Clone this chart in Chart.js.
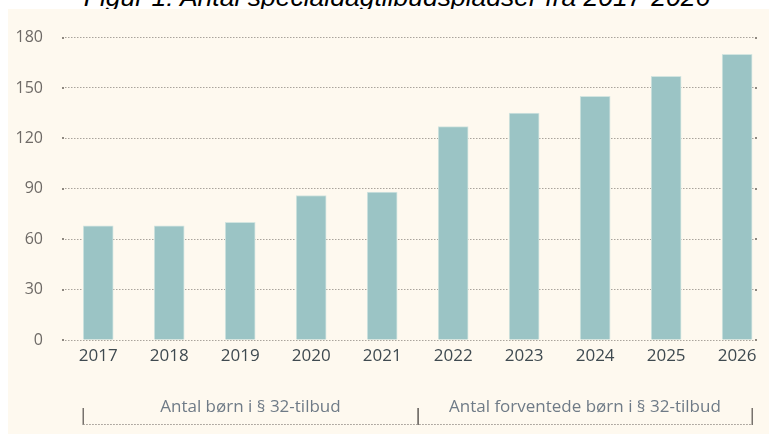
<!DOCTYPE html>
<html><head><meta charset="utf-8">
<script src="https://cdn.jsdelivr.net/npm/chart.js@4.4.1/dist/chart.umd.min.js"></script>
<style>
html,body{margin:0;padding:0;background:#fff;width:769px;height:434px;overflow:hidden;position:relative}
#title{position:absolute;left:0;width:794px;top:-16.4px;text-align:center;font:italic 26.5px/26.5px "Liberation Sans",Arial,sans-serif;color:#000;white-space:nowrap}
#panel{position:absolute;left:8px;top:9px;width:761px;height:425px;background:#fef9ef}
canvas{display:block}
</style></head><body>
<div id="title">Figur 1: Antal specialdagtilbudspladser fra 2017-2026</div>
<div id="panel"><canvas id="c" width="761" height="425"></canvas></div>
<script>
const years = [2017, 2018, 2019, 2020, 2021, 2022, 2023, 2024, 2025, 2026];
const values = [68, 68, 70, 86, 88, 127, 135, 145, 157, 170];
const yTicks = [0, 30, 60, 90, 120, 150, 180];
const groupLabels = ['Antal børn i § 32-tilbud', 'Antal forventede børn i § 32-tilbud'];
const groupFirst = [2017, 2022];
const groupLast = [2021, 2026];

const groupPlugin = {
  id: 'groups',
  afterDraw(chart) {
    const ctx = chart.ctx;
    const meta = chart.getDatasetMeta(0);
    const xs = chart.scales.x;
    const ca = chart.chartArea;
    ctx.save();
    ctx.fillStyle = '#8e8880';
    yTicks.forEach(v => {
      const y = Math.round(chart.scales.y.getPixelForValue(v));
      ctx.fillRect(ca.left, y - 1, 2, 2);
      ctx.fillRect(ca.right - 2, y - 1, 2, 2);
    });
    const tickTop = ca.bottom + 68, lineY = ca.bottom + 84.5, textY = ca.bottom + 67;
    let first = null, last = null;
    groupFirst.forEach((f, g) => {
      const i0 = years.indexOf(f), i1 = years.indexOf(groupLast[g]);
      const e0 = meta.data[i0], e1 = meta.data[i1];
      const left = i0 === 0 ? e0.x - e0.width / 2 : xs.getPixelForValue((years[i0 - 1] + f) / 2);
      const right = i1 === years.length - 1 ? e1.x + e1.width / 2 : xs.getPixelForValue((groupLast[g] + years[i1 + 1]) / 2);
      if (first === null) first = left;
      last = right;
      ctx.strokeStyle = '#77726d';
      ctx.lineWidth = 1.5;
      ctx.setLineDash([]);
      [left, right].forEach(x => {
        ctx.beginPath();
        ctx.moveTo(Math.round(x) + 0.25, tickTop);
        ctx.lineTo(Math.round(x) + 0.25, lineY + 0.5);
        ctx.stroke();
      });
      ctx.fillStyle = '#6f7b87';
      ctx.font = '17px "Open Sans"';
      ctx.textAlign = 'center';
      ctx.textBaseline = 'middle';
      ctx.fillText(groupLabels[g], (left + right) / 2, textY);
    });
    ctx.strokeStyle = '#9a948d';
    ctx.lineWidth = 1;
    ctx.setLineDash([1.5, 1.5]);
    ctx.beginPath();
    ctx.moveTo(first, lineY);
    ctx.lineTo(last, lineY);
    ctx.stroke();
    ctx.restore();
  }
};

new Chart(document.getElementById('c'), {
  type: 'bar',
  data: {
    datasets: [{
      data: years.map((y, i) => ({ x: y, y: values[i] })),
      backgroundColor: '#9bc4c5',
      borderColor: '#d3e5e0',
      borderWidth: 1,
      borderSkipped: 'bottom',
      barThickness: 30
    }]
  },
  options: {
    responsive: false,
    animation: false,
    devicePixelRatio: 1,
    layout: { padding: { top: 21, right: 12, bottom: 0, left: 0 } },
    plugins: { legend: { display: false }, tooltip: { enabled: false }, title: { display: false } },
    scales: {
      x: {
        type: 'linear',
        offset: false,
        min: 2016.49,
        max: 2026.28,
        grid: { display: false, drawTicks: false },
        border: { display: false },
        afterBuildTicks: s => { s.ticks = years.map(v => ({ value: v })); },
        ticks: {
          padding: 6,
          color: '#3f4a50',
          font: { family: 'Open Sans', size: 17 },
          maxRotation: 0,
          autoSkip: false,
          callback: v => String(v)
        },
        afterFit: s => { s.height = 94; }
      },
      y: {
        min: 0,
        max: 180,
        afterBuildTicks: s => { s.ticks = yTicks.map(v => ({ value: v })); },
        grid: { color: '#aaa49c', lineWidth: 1, drawTicks: false },
        border: { display: false, dash: [1.5, 1.5] },
        ticks: {
          padding: 19,
          color: '#6e6a66',
          font: { family: 'Open Sans', size: 16 }
        },
        afterFit: s => { s.width = 54; }
      }
    }
  },
  plugins: [groupPlugin]
});
</script>
</body></html>
